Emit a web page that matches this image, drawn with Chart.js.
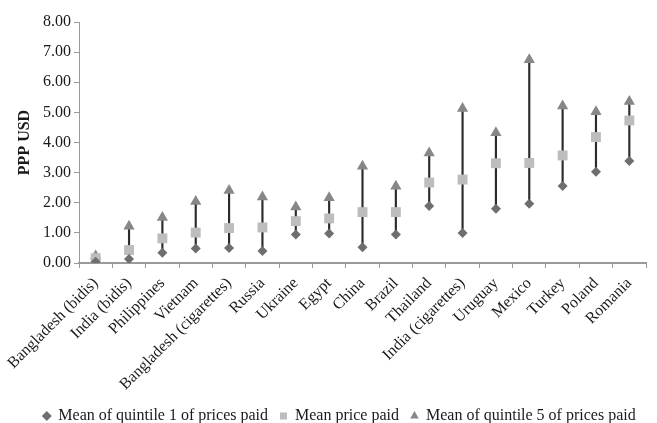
<!DOCTYPE html>
<html>
<head>
<meta charset="utf-8">
<script src="https://cdn.jsdelivr.net/npm/chart.js@4"></script>
<style>
  html, body { margin: 0; padding: 0; background: #fff; }
  #wrap { width: 657px; height: 423px; }
</style>
</head>
<body>
<div id="wrap"><canvas id="grafica"></canvas></div>
<script>
// precios por categoria (PPP USD)
const categorias = ['Bangladesh (bidis)', 'India (bidis)', 'Philippines', 'Vietnam', 'Bangladesh (cigarettes)',
  'Russia', 'Ukraine', 'Egypt', 'China', 'Brazil', 'Thailand', 'India (cigarettes)', 'Uruguay',
  'Mexico', 'Turkey', 'Poland', 'Romania'];
const quintil1 = [0.04, 0.13, 0.34, 0.48, 0.50, 0.40, 0.95, 0.98, 0.52, 0.95, 1.89, 1.00, 1.80, 1.97, 2.56, 3.03, 3.39];
const media    = [0.16, 0.43, 0.82, 1.01, 1.16, 1.18, 1.39, 1.48, 1.69, 1.69, 2.67, 2.77, 3.31, 3.32, 3.57, 4.18, 4.73];
const quintil5 = [0.23, 1.22, 1.51, 2.04, 2.41, 2.19, 1.86, 2.17, 3.21, 2.55, 3.65, 5.13, 4.32, 6.75, 5.21, 5.02, 5.36];
const ticksY = [0, 1, 2, 3, 4, 5, 6, 7, 8];

const fuente = "'Liberation Serif', 'Times New Roman', serif";
Chart.defaults.font.family = fuente;
Chart.defaults.font.size = 16;
Chart.defaults.color = '#1a1a1a';

const rangos = quintil1.map((v, i) => [v, quintil5[i]]);

// mueve la leyenda un poco a la derecha
const moverLeyenda = {
  id: 'moverLeyenda',
  beforeDraw(chart) {
    const l = chart.legend;
    if (!l || l._movida) return;
    l.left += 10;
    l.right += 10;
    l._movida = true;
  },
  afterUpdate(chart) {
    if (chart.legend) chart.legend._movida = false;
  }
};

new Chart(document.getElementById('grafica'), {
  data: {
    labels: categorias,
    datasets: [
      {
        type: 'bar',
        label: 'rango',
        data: rangos,
        backgroundColor: '#2b2b2b',
        barThickness: 1.5,
        order: 10
      },
      {
        type: 'line',
        label: 'Mean of quintile 1 of prices paid',
        data: quintil1,
        showLine: false,
        pointStyle: 'rectRot',
        pointRadius: 5,
        backgroundColor: '#6e6e6e',
        borderColor: '#6e6e6e',
        borderWidth: 0,
        order: 1
      },
      {
        type: 'line',
        label: 'Mean price paid',
        data: media,
        showLine: false,
        pointStyle: 'rect',
        pointRadius: 7,
        backgroundColor: '#bdbdbd',
        borderColor: '#bdbdbd',
        borderWidth: 0,
        order: 1
      },
      {
        type: 'line',
        label: 'Mean of quintile 5 of prices paid',
        data: quintil5,
        showLine: false,
        pointStyle: 'triangle',
        pointRadius: 6.5,
        backgroundColor: '#878787',
        borderColor: '#878787',
        borderWidth: 0,
        order: 1
      }
    ]
  },
  options: {
    responsive: true,
    maintainAspectRatio: false,
    animation: false,
    layout: { padding: { top: 22, right: 11, left: 13, bottom: -11 } },
    plugins: {
      tooltip: { enabled: false },
      legend: {
        position: 'bottom',
        labels: {
          usePointStyle: true,
          boxWidth: 7,
          boxHeight: 7,
          padding: 12,
          color: '#1a1a1a',
          font: { size: 16, family: fuente },
          filter: item => item.text !== 'rango'
        }
      }
    },
    scales: {
      x: {
        offset: true,
        grid: { display: true, drawOnChartArea: false, drawTicks: true, tickLength: 5, offset: true, color: '#9a9a9a', lineWidth: 1 },
        border: { color: '#9a9a9a', width: 2 },
        ticks: { maxRotation: 45, minRotation: 45, autoSkip: false, color: '#1a1a1a', padding: 6 },
        afterFit: scale => { scale.height = 133; }
      },
      y: {
        min: 0,
        max: 8,
        afterBuildTicks: scale => { scale.ticks = ticksY.map(v => ({ value: v })); },
        grid: { display: true, drawOnChartArea: false, drawTicks: true, tickLength: 5, color: '#9a9a9a' },
        border: { color: '#9a9a9a', width: 1 },
        ticks: { callback: v => v.toFixed(2), color: '#1a1a1a', padding: 3 },
        title: { display: true, text: 'PPP USD', font: { weight: 'bold', size: 16, family: fuente }, color: '#1a1a1a', padding: 2 },
        afterFit: scale => { scale.width = 66; }
      }
    }
  },
  plugins: [moverLeyenda]
});
</script>
</body>
</html>
